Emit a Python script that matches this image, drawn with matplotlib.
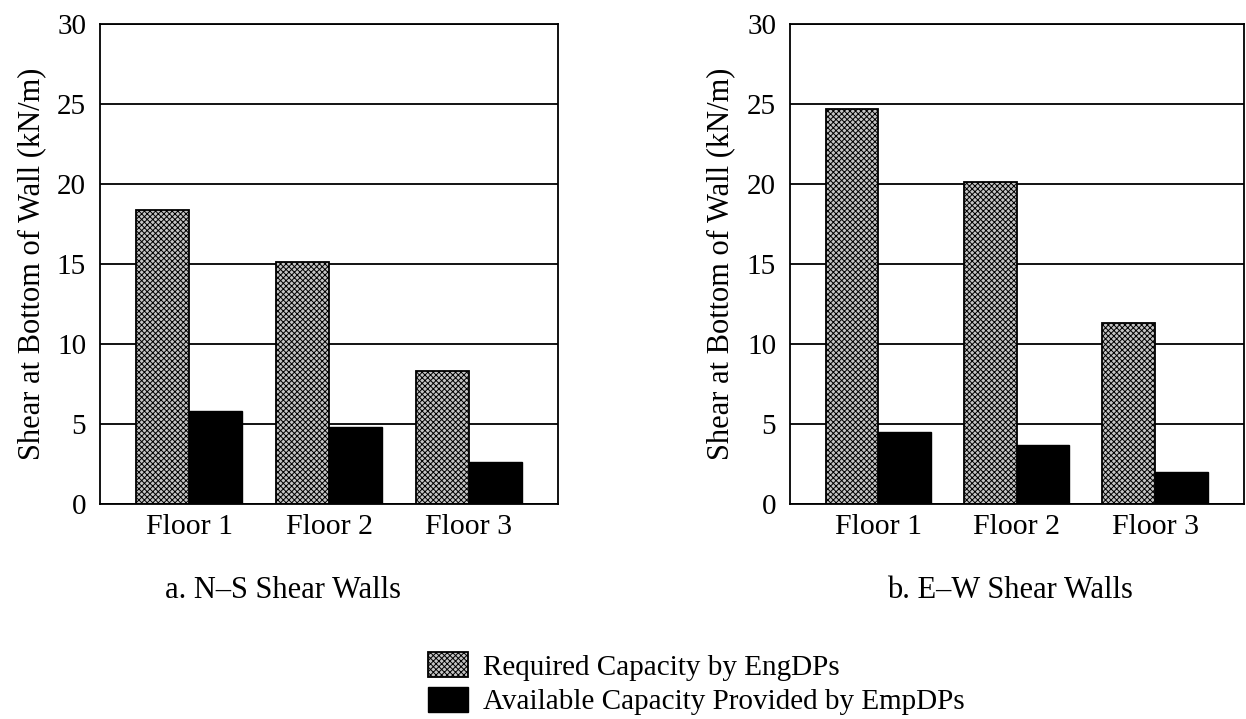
import numpy as np
import matplotlib.pyplot as plt

plt.rcParams['font.family'] = ['Liberation Serif', 'DejaVu Serif']
plt.rcParams['hatch.color'] = '#1a1a1a'
plt.rcParams['hatch.linewidth'] = 0.7

floors = ['Floor 1', 'Floor 2', 'Floor 3']
ns_required = [18.4, 15.1, 8.3]
ns_available = [5.8, 4.8, 2.6]
ew_required = [24.7, 20.1, 11.3]
ew_available = [4.5, 3.7, 2.0]
titles = ['a. N\u2013S Shear Walls', 'b. E\u2013W Shear Walls']

fig = plt.figure(figsize=(12.46, 7.19), dpi=100)
ax1 = fig.add_axes([0.0803, 0.299, 0.3676, 0.6676])
ax2 = fig.add_axes([0.634, 0.299, 0.364, 0.6676])

x = np.arange(len(floors))
w = 0.38
for ax, req, avail, title, tx in [(ax1, ns_required, ns_available, titles[0], 0.40),
                                  (ax2, ew_required, ew_available, titles[1], 0.485)]:
    ax.set_axisbelow(True)
    ax.yaxis.grid(True, color='black', linewidth=1.3)
    b1 = ax.bar(x - w/2, req, w, facecolor='#c4c4c4', edgecolor='black',
                hatch='xxxxxx', linewidth=1.3, label='Required Capacity by EngDPs')
    b2 = ax.bar(x + w/2, avail, w, facecolor='black', edgecolor='black',
                linewidth=1.0, label='Available Capacity Provided by EmpDPs')
    ax.set_xlim(-0.64, 2.64)
    ax.set_ylim(0, 30)
    ax.set_yticks(range(0, 31, 5))
    ax.set_xticks(x)
    ax.set_xticklabels(floors)
    ax.tick_params(axis='y', length=0, labelsize=21, pad=10)
    ax.tick_params(axis='x', length=0, labelsize=21.5, pad=7)
    ax.set_ylabel('Shear at Bottom of Wall (kN/m)', fontsize=22, labelpad=8)
    for s in ax.spines.values():
        s.set_linewidth(1.3)
    ax.text(tx, -0.18, title, transform=ax.transAxes, ha='center', va='center',
            fontsize=22)

fig.legend(handles=[b1, b2], loc='upper left', bbox_to_anchor=(0.3435, 0.093),
           frameon=False, fontsize=21, handlelength=1.37, handleheight=0.95,
           labelspacing=0.2, handletextpad=0.5, borderpad=0, borderaxespad=0)
fig.savefig('out.png', dpi=100)
